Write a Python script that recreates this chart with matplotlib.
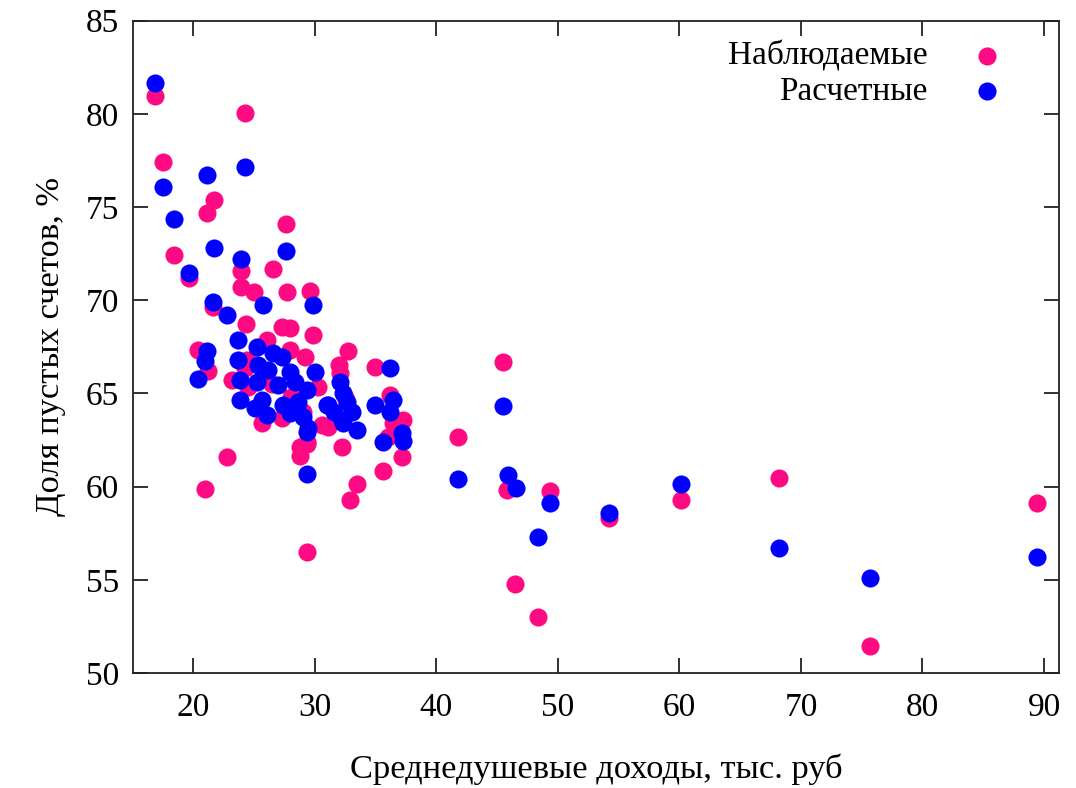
import matplotlib
matplotlib.use('Agg')
import matplotlib.pyplot as plt

# доля пустых счетов vs среднедушевые доходы
# observed (pink)
income_obs = [16.85, 17.53, 24.28, 21.73, 21.15, 27.60, 18.41, 19.65, 23.90, 26.58,
              23.90, 25.02, 27.73, 29.60, 21.60, 24.31, 27.27, 27.96, 29.87, 20.41,
              21.23, 32.75, 26.04, 27.96, 29.19, 24.39, 24.25, 32.01, 32.07, 34.95,
              23.15, 24.53, 30.29, 36.18, 25.63, 27.27, 30.57, 31.11, 37.28, 36.46,
              36.05, 29.33, 28.78, 28.78, 29.33, 32.21, 22.75, 20.96, 29.33, 33.45,
              32.89, 35.58, 37.15, 41.76, 45.46, 45.84, 49.35, 54.23, 46.50, 48.34,
              60.11, 68.22, 75.68, 89.40, 26.50, 28.00, 32.50, 29.00]
share_obs = [80.96, 77.43, 80.03, 75.38, 74.70, 74.09, 72.43, 71.19, 71.59, 71.66,
             70.73, 70.43, 70.43, 70.51, 69.65, 68.71, 68.58, 68.50, 68.14, 67.33,
             66.20, 67.29, 67.87, 67.33, 66.97, 66.79, 66.35, 66.53, 66.08, 66.43,
             65.72, 65.36, 65.36, 64.92, 63.40, 63.67, 63.31, 63.21, 63.58, 63.40,
             62.68, 62.41, 62.14, 61.64, 62.29, 62.11, 61.57, 59.86, 56.51, 60.14,
             59.28, 60.85, 61.57, 62.65, 66.70, 59.82, 59.77, 58.30, 54.78, 52.99,
             59.28, 60.48, 51.45, 59.14, 65.50, 64.80, 64.80, 64.00]

# calculated (blue)
income_calc = [16.85, 24.28, 21.15, 17.53, 18.44, 21.73, 27.60, 23.90, 19.65, 25.76,
               29.87, 21.60, 22.75, 23.70, 21.10, 20.96, 20.41, 25.21, 26.58, 27.27,
               23.70, 25.35, 26.17, 27.96, 30.01, 23.84, 25.21, 26.99, 28.37, 29.33,
               23.84, 25.63, 25.08, 27.41, 28.64, 27.96, 29.05, 29.46, 26.04, 28.51,
               30.98, 32.07, 31.11, 32.62, 33.03, 32.21, 33.45, 32.34, 29.33, 29.33,
               34.95, 36.18, 36.46, 36.18, 35.58, 37.15, 37.28, 41.76, 45.46, 45.92,
               46.53, 49.35, 48.34, 54.23, 60.11, 68.22, 75.68, 89.40, 31.60, 32.30]
share_calc = [81.67, 77.17, 76.70, 76.09, 74.36, 72.82, 72.66, 72.20, 71.46, 69.75,
              69.75, 69.89, 69.21, 67.87, 67.29, 66.75, 65.79, 67.51, 67.15, 66.97,
              66.79, 66.53, 66.26, 66.17, 66.17, 65.72, 65.63, 65.45, 65.63, 65.18,
              64.65, 64.65, 64.20, 64.38, 64.56, 63.93, 63.75, 63.13, 63.84, 64.11,
              64.38, 65.63, 64.38, 64.56, 64.02, 63.57, 63.04, 63.40, 62.95, 60.68,
              64.38, 66.35, 64.65, 64.02, 62.41, 62.86, 62.46, 60.39, 64.34, 60.62,
              59.94, 59.14, 57.31, 58.60, 60.14, 56.69, 55.08, 56.24, 64.00, 65.00]

plt.rcParams['font.family'] = ['Liberation Serif', 'DejaVu Serif']
plt.rcParams['font.size'] = 24

fig = plt.figure(figsize=(10.76, 7.88), dpi=100)
ax = fig.add_axes([0.1233, 0.1459, 0.8612, 0.8278])

ax.scatter(income_obs, share_obs, s=170, color='#ff0a82', linewidths=0,
           label='Наблюдаемые', zorder=2)
ax.scatter(income_calc, share_calc, s=170, color='#0000ff', linewidths=0,
           label='Расчетные', zorder=3)

ax.set_xlim(15, 91.26)
ax.set_ylim(50, 85)
ax.set_xticks([20, 30, 40, 50, 60, 70, 80, 90])
ax.set_yticks([50, 55, 60, 65, 70, 75, 80, 85])
ax.tick_params(direction='in', length=11, width=1.3, top=True, right=True,
               labelsize=24, pad=14, color='#222222')
ax.tick_params(axis='y', pad=10)
for sp in ax.spines.values():
    sp.set_linewidth(1.3)
    sp.set_color('#222222')

ax.set_xlabel('Среднедушевые доходы, тыс. руб', fontsize=24.8, labelpad=22)
ax.set_ylabel('Доля пустых счетов, %', fontsize=24.8, labelpad=14)

ax.legend(loc='upper right', bbox_to_anchor=(0.98, 1.0), frameon=False,
          markerfirst=False, fontsize=24, handletextpad=0.8, labelspacing=0.15,
          borderaxespad=0.2, scatterpoints=1)

fig.savefig('out.png', dpi=100)
